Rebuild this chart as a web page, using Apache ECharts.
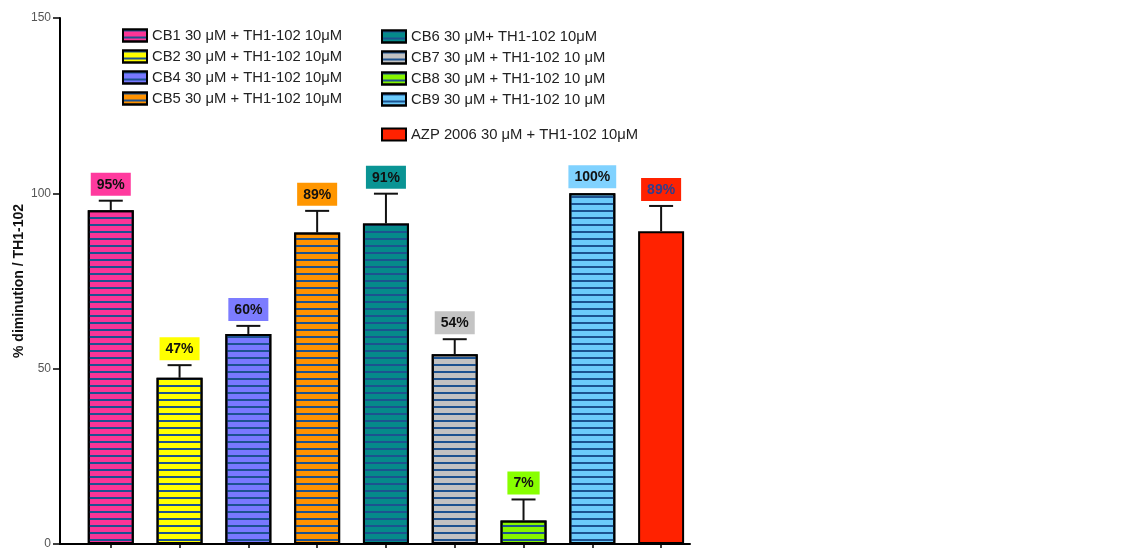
<!DOCTYPE html>
<html><head><meta charset="utf-8">
<script src="https://cdn.jsdelivr.net/npm/echarts@6/dist/echarts.min.js"></script>
<style>html,body{margin:0;padding:0;background:#fff}#c{width:1134px;height:548px}</style>
</head><body><div id="c"></div>
<script>
const names = ['CB1 30 μM + TH1-102 10μM', 'CB2 30 μM + TH1-102 10μM', 'CB4 30 μM + TH1-102 10μM', 'CB5 30 μM + TH1-102 10μM',
  'CB6 30 μM+ TH1-102 10μM', 'CB7 30 μM + TH1-102 10 μM', 'CB8 30 μM + TH1-102 10 μM', 'CB9 30 μM + TH1-102 10 μM',
  'AZP 2006 30 μM + TH1-102 10μM'];
const values = [95.2, 47.4, 59.9, 88.8, 91.4, 54.1, 6.7, 100, 89.2];
const errors = [2.7, 3.6, 2.3, 6.2, 8.5, 4.3, 6.0, 0, 7.2];
const labels = ['95%', '47%', '60%', '89%', '91%', '54%', '7%', '100%', '89%'];
const colors = ['#fb3497', '#ffff00', '#7878ff', '#ff9200', '#058a8a', '#c2c2c2', '#86f500', '#6ccbfb', '#ff2200'];
const labelColors = ['#ff3a9e', '#ffff00', '#7c7cff', '#ff9600', '#0a9494', '#c4c4c4', '#88ff00', '#80d2ff', '#ff2200'];
const labelTextColors = ['#111', '#111', '#111', '#111', '#111', '#111', '#111', '#111', '#2f3e8e'];
const striped = [true, true, true, true, true, true, true, true, false];
const positions = [0, 1, 2, 3, 4, 5, 6, 7, 8];

const FONT = 'Liberation Sans, Arial, sans-serif';
const stripeDecal = { symbol: 'rect', symbolSize: 1, dashArrayX: [1, 0], dashArrayY: [2, 4.5], rotation: 0, color: '#1c5290' };

const barSeries = names.map((n, i) => ({
  type: 'bar', name: n, barWidth: 46, barGap: '-100%',
  data: [[positions[i], values[i]]],
  itemStyle: Object.assign({ color: colors[i], borderColor: '#000', borderWidth: 2 }, striped[i] ? { decal: stripeDecal } : {}),
  z: 2
}));

const errSeries = {
  type: 'custom', name: 'err', z: 3,
  encode: { x: 0, y: [1, 2] },
  data: positions.map((p, i) => [p, values[i], values[i] + errors[i]]),
  renderItem(params, api) {
    const x = api.value(0), lo = api.value(1), hi = api.value(2);
    if (hi <= lo) return null;
    const p0 = api.coord([x, lo]), p1 = api.coord([x, hi]);
    return { type: 'group', children: [
      { type: 'line', shape: { x1: p0[0], y1: p0[1], x2: p1[0], y2: p1[1] }, style: { stroke: '#111', lineWidth: 2 } },
      { type: 'line', shape: { x1: p1[0] - 12, y1: p1[1], x2: p1[0] + 12, y2: p1[1] }, style: { stroke: '#111', lineWidth: 2 } }
    ] };
  }
};

const labelSeries = {
  type: 'scatter', name: 'lbl', symbolSize: 0, z: 4, silent: true,
  itemStyle: { opacity: 1 },
  data: positions.map((p, i) => ({
    value: [p, values[i] + errors[i]],
    label: { backgroundColor: labelColors[i], color: labelTextColors[i] }
  })),
  label: {
    show: true, position: 'top', distance: 5,
    formatter: p => labels[p.dataIndex],
    fontSize: 14, fontWeight: 'bold', fontFamily: FONT,
    padding: [5, 6, 4, 6]
  }
};

const legendCommon = {
  orient: 'vertical', itemWidth: 24, itemHeight: 12, itemGap: 6, icon: 'rect', selectedMode: false,
  textStyle: { fontSize: 14.8, color: '#222', fontFamily: FONT, lineHeight: 15 }
};

const option = {
  animation: false,
  textStyle: { fontFamily: FONT },
  grid: { left: 60, right: 444, top: 18, bottom: 4, containLabel: false, outerBoundsMode: 'none' },
  legend: [
    Object.assign({ left: 117, top: 23, data: names.slice(0, 4) }, legendCommon),
    Object.assign({ left: 376, top: 24, data: names.slice(4, 8) }, legendCommon),
    Object.assign({ left: 376, top: 122, data: [names[8]] }, legendCommon)
  ],
  xAxis: {
    type: 'value', min: -0.738, max: 8.42,
    axisLine: { show: true, onZero: false, lineStyle: { color: '#000', width: 2 } },
    axisTick: { show: true, length: 5, customValues: positions, lineStyle: { color: '#000', width: 1.5 } },
    axisLabel: { show: false },
    splitLine: { show: false }
  },
  yAxis: {
    type: 'value', min: 0, max: 150, interval: 50,
    name: '% diminution / TH1-102', nameLocation: 'middle', nameGap: 34, nameMoveOverlap: false,
    nameTextStyle: { fontSize: 14, fontWeight: 'bold', color: '#111', fontFamily: FONT },
    axisLine: { show: true, onZero: false, lineStyle: { color: '#000', width: 2 } },
    axisTick: { show: true, length: 7, lineStyle: { color: '#000', width: 1.5 } },
    axisLabel: { color: '#555', fontSize: 12, margin: 9, fontFamily: FONT },
    splitLine: { show: false }
  },
  series: barSeries.concat([errSeries, labelSeries])
};

const chart = echarts.init(document.getElementById('c'), null, { renderer: 'canvas' });
chart.setOption(option);
</script>
</body></html>
